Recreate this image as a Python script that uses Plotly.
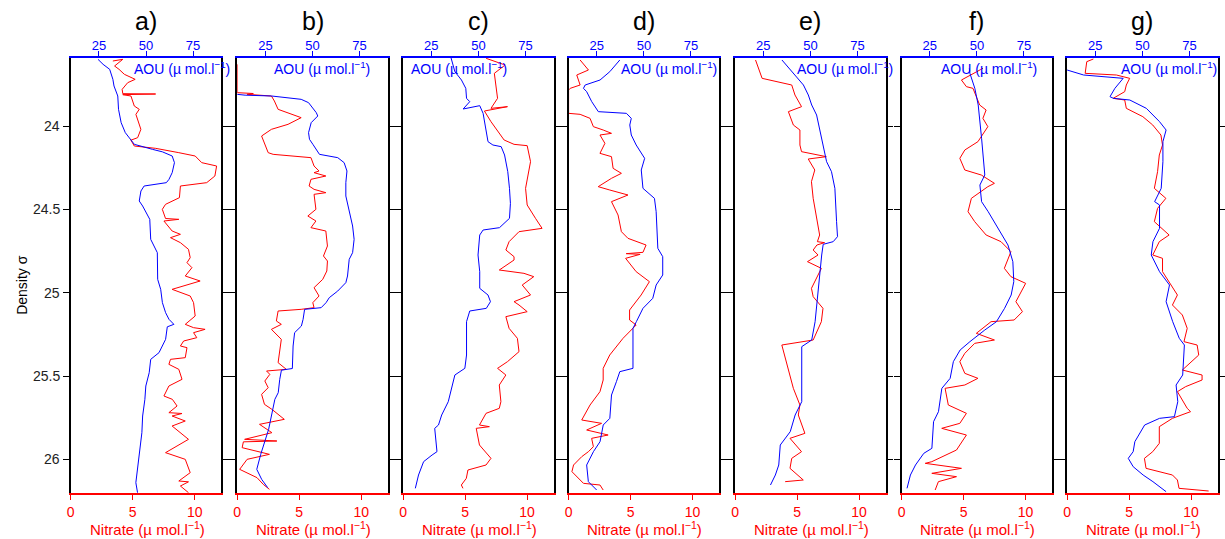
import plotly.graph_objects as go

# ---------------- data: (density sigma, value) ----------------
a_aou = [(23.60,24.5),(23.63,27.2),(23.66,30.7),(23.72,32.4),(23.76,33.0),(23.82,35.0),(23.90,35.4),(23.98,36.8),(24.04,39.0),(24.07,41.2),(24.11,43.8),(24.14,53.4),(24.155,58.7),(24.18,63.9),(24.22,65.1),(24.28,63.9),(24.32,62.2),(24.34,60.8),(24.36,49.0),(24.39,47.3),(24.45,46.4),(24.48,48.2),(24.53,50.8),(24.56,52.0),(24.68,52.5),(24.72,54.3),(24.76,56.0),(24.92,56.2),(24.98,57.8),(25.06,58.7),(25.12,60.4),(25.16,62.2),(25.19,64.8),(25.205,61.3),(25.28,60.4),(25.36,56.9),(25.40,52.5),(25.48,51.7),(25.56,49.9),(25.64,49.4),(25.74,48.2),(25.84,47.8),(25.96,46.4),(26.04,45.5),(26.14,44.6),(26.20,45.5)]
a_no3 = [(23.61,3.4),(23.60,4.2),(23.64,3.54),(23.66,3.9),(23.69,4.33),(23.71,4.86),(23.72,5.2),(23.74,4.6),(23.78,4.15),(23.806,4.2),(23.808,6.85),(23.812,4.2),(23.82,4.86),(23.88,5.13),(23.90,5.53),(23.93,5.26),(24.02,5.66),(24.07,5.4),(24.085,4.86),(24.12,5.13),(24.134,6.85),(24.16,8.72),(24.18,10.04),(24.22,10.57),(24.24,11.77),(24.30,11.63),(24.34,10.97),(24.36,8.85),(24.43,8.77),(24.47,7.65),(24.50,7.39),(24.555,7.65),(24.56,8.72),(24.57,7.52),(24.63,8.18),(24.65,8.85),(24.67,8.05),(24.70,8.85),(24.74,9.5),(24.79,9.64),(24.82,9.38),(24.85,9.78),(24.90,9.24),(24.93,10.44),(24.98,8.18),(25.02,9.64),(25.06,9.91),(25.14,10.04),(25.19,9.24),(25.21,9.91),(25.22,10.84),(25.24,9.91),(25.27,10.17),(25.29,9.11),(25.32,8.85),(25.33,9.38),(25.39,9.24),(25.40,8.05),(25.43,7.92),(25.46,8.72),(25.52,8.98),(25.56,7.92),(25.62,7.52),(25.64,8.2),(25.68,8.58),(25.72,7.92),(25.725,8.98),(25.74,8.18),(25.77,9.24),(25.80,8.18),(25.88,9.5),(25.96,7.65),(26.00,9.24),(26.08,9.64),(26.13,8.72),(26.135,9.5),(26.16,8.85),(26.20,9.5)]

b_aou = [(23.81,10.0),(23.815,14.2),(23.82,28.3),(23.83,37.0),(23.84,44.0),(23.86,47.9),(23.92,52.0),(23.94,52.8),(23.98,49.3),(24.04,47.9),(24.08,48.4),(24.11,50.2),(24.17,53.7),(24.19,63.4),(24.22,66.8),(24.27,68.3),(24.34,67.7),(24.42,67.7),(24.51,69.5),(24.60,71.3),(24.68,72.1),(24.76,71.3),(24.80,69.5),(24.90,68.6),(24.94,67.7),(24.99,63.4),(25.03,58.9),(25.06,57.2),(25.09,54.6),(25.10,45.8),(25.16,45.0),(25.20,44.1),(25.24,40.5),(25.32,39.7),(25.455,39.3),(25.465,33.5),(25.52,32.6),(25.60,31.8),(25.64,30.0),(25.82,26.7),(25.97,22.5),(26.06,20.4),(26.12,23.0),(26.17,26.2)]
b_no3 = [(23.63,0.0),(23.80,0.0),(23.805,1.3),(23.81,0.8),(23.82,2.76),(23.85,3.0),(23.90,3.3),(23.95,5.16),(23.99,4.1),(24.02,2.76),(24.06,1.97),(24.084,2.1),(24.16,2.5),(24.17,2.9),(24.19,5.95),(24.24,6.2),(24.27,6.6),(24.28,6.2),(24.30,7.15),(24.32,5.95),(24.36,5.8),(24.38,6.2),(24.40,7.15),(24.41,6.2),(24.50,6.35),(24.54,5.7),(24.57,6.35),(24.61,5.95),(24.63,7.15),(24.72,7.28),(24.78,6.96),(24.81,7.28),(24.87,7.23),(24.92,6.9),(24.97,6.2),(25.02,6.6),(25.06,6.1),(25.09,6.2),(25.10,5.16),(25.11,3.3),(25.17,3.16),(25.19,3.56),(25.22,2.76),(25.28,3.56),(25.34,3.43),(25.42,3.3),(25.46,3.96),(25.47,2.37),(25.49,2.63),(25.53,2.23),(25.57,2.5),(25.61,1.97),(25.67,2.2),(25.70,2.8),(25.76,3.8),(25.79,1.8),(25.84,2.8),(25.88,0.6),(25.89,3.2),(25.895,0.5),(25.93,0.4),(25.97,2.6),(26.00,0.8),(26.06,0.2),(26.11,1.6),(26.15,2.1),(26.18,2.6)]

c_aou = [(23.584,35.3),(23.674,37.5),(23.724,41.0),(23.774,43.3),(23.834,43.7),(23.854,45.4),(23.898,41.9),(23.878,50.7),(23.924,52.5),(24.004,53.9),(24.094,55.1),(24.114,57.7),(24.124,62.1),(24.174,63.9),(24.274,65.6),(24.374,66.5),(24.464,67.0),(24.554,66.5),(24.61,61.2),(24.624,52.5),(24.654,50.7),(24.774,49.8),(24.874,50.7),(24.974,50.7),(25.014,55.1),(25.054,56.4),(25.094,54.2),(25.11,45.4),(25.174,43.7),(25.374,43.7),(25.454,42.8),(25.494,37.5),(25.574,35.7),(25.654,34.0),(25.734,30.5),(25.794,28.8),(25.814,26.8),(25.954,28.0),(25.974,25.4),(26.014,20.9),(26.094,18.2),(26.174,16.5)]
c_no3 = [(23.594,6.7),(23.634,8.23),(23.684,7.36),(23.754,7.49),(23.834,7.62),(23.894,7.09),(23.884,8.42),(23.91,6.56),(23.974,7.09),(24.084,8.15),(24.11,8.95),(24.118,10.01),(24.214,10.28),(24.374,9.88),(24.474,10.01),(24.554,10.68),(24.614,11.21),(24.634,9.35),(24.694,8.55),(24.744,8.29),(24.784,8.95),(24.804,8.95),(24.864,7.76),(24.884,9.75),(24.904,10.54),(24.954,9.61),(25.014,10.28),(25.054,8.95),(25.074,9.35),(25.114,10.01),(25.144,8.29),(25.214,8.55),(25.274,9.22),(25.354,9.35),(25.414,8.42),(25.454,7.62),(25.494,8.29),(25.554,7.76),(25.654,7.89),(25.694,7.76),(25.724,6.69),(25.794,6.16),(25.804,6.96),(25.814,5.9),(25.914,6.16),(25.994,7.09),(26.034,6.69),(26.064,5.23),(26.114,5.1),(26.154,4.7),(26.174,4.83)]

d_aou = [(23.604,37.2),(23.674,31.9),(23.724,26.7),(23.754,18.8),(23.774,17.9),(23.794,19.6),(23.854,22.3),(23.914,25.8),(23.924,40.7),(23.954,43.3),(23.994,42.5),(24.054,43.3),(24.114,45.9),(24.194,50.4),(24.264,48.6),(24.374,49.5),(24.434,55.6),(24.514,56.5),(24.734,57.4),(24.784,60.0),(24.894,60.0),(24.954,56.5),(25.034,54.7),(25.094,49.5),(25.174,46.0),(25.214,44.2),(25.454,44.2),(25.474,37.2),(25.534,35.4),(25.614,32.8),(25.754,31.9),(25.794,28.4),(25.894,26.7),(25.954,23.2),(26.034,19.6),(26.134,20.5),(26.184,24.9)]
d_no3 = [(23.604,0.93),(23.664,1.6),(23.694,0.66),(23.754,0.93),(23.774,0.13),(23.784,0.0),(23.924,0.0),(23.93,0.93),(23.954,1.73),(24.004,2.0),(24.024,2.79),(24.044,3.46),(24.054,2.53),(24.104,2.93),(24.164,2.53),(24.184,3.46),(24.254,3.59),(24.284,4.26),(24.314,3.46),(24.364,2.39),(24.384,3.32),(24.414,4.79),(24.454,3.46),(24.534,3.99),(24.634,4.26),(24.674,4.79),(24.714,6.25),(24.758,6.0),(24.766,4.65),(24.77,5.77),(24.794,4.6),(24.874,5.45),(24.934,6.52),(25.014,5.85),(25.104,4.92),(25.164,4.92),(25.194,5.45),(25.274,4.39),(25.374,3.32),(25.454,2.79),(25.524,2.79),(25.594,2.53),(25.674,1.73),(25.764,1.06),(25.784,2.66),(25.824,1.46),(25.854,3.19),(25.874,1.86),(25.924,2.0),(25.954,1.6),(25.984,1.06),(26.034,0.4),(26.074,0.27),(26.114,0.8),(26.144,1.2),(26.154,2.53),(26.184,2.79)]

e_aou = [(23.604,34.9),(23.694,41.9),(23.754,46.3),(23.814,48.9),(23.874,50.7),(23.934,53.3),(24.034,55.1),(24.114,56.8),(24.214,58.6),(24.274,61.2),(24.374,63.0),(24.574,63.9),(24.664,64.4),(24.694,62.1),(24.71,56.8),(24.774,56.0),(24.874,55.1),(25.014,54.2),(25.174,52.5),(25.284,50.7),(25.324,45.4),(25.654,45.4),(25.734,41.9),(25.834,39.3),(25.914,34.0),(26.034,33.2),(26.094,31.4),(26.154,28.8)]
e_no3 = [(23.604,1.65),(23.714,2.18),(23.754,4.57),(23.814,4.83),(23.884,5.36),(23.914,4.3),(23.994,4.7),(24.024,5.23),(24.114,5.23),(24.154,5.36),(24.184,7.36),(24.198,5.9),(24.264,6.43),(24.334,6.16),(24.434,6.3),(24.654,6.82),(24.694,6.64),(24.70,7.22),(24.714,6.6),(24.744,6.3),(24.774,6.69),(24.814,5.84),(24.854,6.96),(24.974,6.16),(25.024,6.3),(25.094,7.09),(25.174,6.96),(25.284,6.3),(25.314,3.77),(25.574,4.7),(25.674,5.23),(25.734,5.1),(25.844,5.63),(25.874,4.43),(25.954,5.36),(25.994,4.57),(26.054,4.43),(26.124,5.5),(26.134,4.04)]

f_aou = [(23.654,46.0),(23.684,46.3),(23.774,48.9),(23.874,50.7),(24.074,52.5),(24.294,54.2),(24.354,51.6),(24.454,52.5),(24.514,56.0),(24.614,61.2),(24.714,66.5),(24.814,69.1),(24.934,69.6),(25.014,68.2),(25.094,64.7),(25.174,60.4),(25.224,54.2),(25.294,46.3),(25.344,41.1),(25.414,37.5),(25.514,35.8),(25.574,31.4),(25.714,29.6),(25.774,27.0),(25.934,26.1),(25.964,21.8),(26.034,17.4),(26.094,14.7),(26.174,12.9)]
f_no3 = [(23.654,6.56),(23.724,4.83),(23.764,5.23),(23.774,5.76),(23.874,6.3),(23.904,6.82),(23.954,6.56),(24.004,6.96),(24.094,6.16),(24.144,5.1),(24.194,4.7),(24.264,5.1),(24.294,6.43),(24.344,7.49),(24.364,6.96),(24.434,5.63),(24.514,5.36),(24.574,5.9),(24.654,6.82),(24.694,8.02),(24.754,8.82),(24.854,8.29),(24.904,8.82),(24.944,10.01),(25.054,9.22),(25.114,9.75),(25.164,9.08),(25.174,7.22),(25.244,6.03),(25.284,7.49),(25.304,5.9),(25.364,5.1),(25.414,4.7),(25.484,5.1),(25.514,6.16),(25.554,5.1),(25.574,3.51),(25.674,3.77),(25.724,5.23),(25.784,4.7),(25.814,3.24),(25.854,5.23),(25.944,4.43),(26.014,2.44),(26.024,1.91),(26.054,4.83),(26.084,2.44),(26.104,4.43),(26.134,2.97),(26.184,2.71)]

g_aou = [(23.664,10.0),(23.694,18.8),(23.714,39.8),(23.774,35.4),(23.824,32.8),(23.834,34.6),(23.844,43.3),(23.894,52.1),(23.974,59.1),(24.024,62.6),(24.094,60.9),(24.214,60.9),(24.374,60.0),(24.454,56.5),(24.474,59.1),(24.614,59.1),(24.694,55.6),(24.774,54.7),(24.874,59.1),(24.954,64.4),(25.054,62.6),(25.174,66.1),(25.274,69.6),(25.314,72.3),(25.494,71.4),(25.554,67.9),(25.654,68.8),(25.744,67.0),(25.754,59.1),(25.794,51.2),(25.894,46.0),(25.954,45.1),(25.994,42.5),(26.044,45.1),(26.094,50.4),(26.134,55.6),(26.194,62.6)]
g_no3 = [(23.598,2.12),(23.614,1.59),(23.684,1.46),(23.694,3.98),(23.714,5.05),(23.754,4.78),(23.794,4.65),(23.834,3.72),(23.844,4.65),(23.894,4.78),(23.944,6.11),(23.994,6.91),(24.054,7.57),(24.114,7.7),(24.174,7.44),(24.274,7.3),(24.374,7.04),(24.434,7.97),(24.494,7.3),(24.574,7.04),(24.654,8.23),(24.694,7.44),(24.774,6.91),(24.794,7.7),(24.874,7.7),(25.014,8.9),(25.074,8.5),(25.134,9.3),(25.214,9.69),(25.294,9.43),(25.314,10.49),(25.374,10.62),(25.464,9.3),(25.494,10.89),(25.524,10.89),(25.564,9.56),(25.594,8.9),(25.694,9.69),(25.714,9.96),(25.754,8.5),(25.804,7.44),(25.904,7.44),(25.954,6.91),(25.994,6.24),(26.054,6.37),(26.094,8.5),(26.124,8.9),(26.174,9.03),(26.19,11.42)]

panel_labels = ["a)", "b)", "c)", "d)", "e)", "f)", "g)"]
aou_series = [a_aou, b_aou, c_aou, d_aou, e_aou, f_aou, g_aou]
no3_series = [a_no3, b_no3, c_no3, d_no3, e_no3, f_no3, g_no3]
density_ticks = [24, 24.5, 25, 25.5, 26]
density_ticktext = ["24", "24.5", "25", "25.5", "26"]
no3_ticks = [0, 5, 10]
aou_ticks = [25, 50, 75]

# ---------------- layout ----------------
W, H = 1225, 539
T, B = 58, 46
FONT = "Liberation Sans, Arial, sans-serif"
RED = "#ff0000"
BLUE = "#0000ff"
lefts_px = [67.3, 235.3, 402.7, 569.7, 737.7, 905.7, 1072.7]
pw = 152
aou_label_px = [129, 270, 409, 621, 798, 943, 1125]

fig = go.Figure()
layout = dict(width=W, height=H, margin=dict(l=0, r=0, t=T, b=B),
              paper_bgcolor="white", plot_bgcolor="white", showlegend=False,
              font=dict(family=FONT, size=13, color="black"))
annotations = []

def pxpy(py):
    return (H - B - py) / (H - T - B)

for i in range(7):
    nx = 2 * i + 1
    ax = 2 * i + 2
    yi = i + 1
    xn = "x" if nx == 1 else f"x{nx}"
    xa = f"x{ax}"
    yn = "y" if yi == 1 else f"y{yi}"
    dom = [lefts_px[i] / W, min((lefts_px[i] + pw) / W, 1.0)]

    nd = [p[0] for p in no3_series[i]]
    nv = [p[1] for p in no3_series[i]]
    ad = [p[0] for p in aou_series[i]]
    av = [p[1] for p in aou_series[i]]
    fig.add_trace(go.Scatter(x=nv, y=nd, mode="lines", xaxis=xn, yaxis=yn,
                             line=dict(color=RED, width=1)))
    fig.add_trace(go.Scatter(x=av, y=ad, mode="lines", xaxis=xa, yaxis=yn,
                             line=dict(color=BLUE, width=1)))

    layout["xaxis" if nx == 1 else f"xaxis{nx}"] = dict(
        domain=dom, anchor=yn, range=[0, 12.15], tickvals=no3_ticks,
        showline=True, linecolor=RED, linewidth=1.5, ticks="outside", ticklen=5,
        tickcolor=RED, tickfont=dict(color=RED, size=14), showgrid=False,
        zeroline=False, mirror=False)
    layout[f"xaxis{ax}"] = dict(
        overlaying=xn, anchor=yn, side="top", range=[10, 90], tickvals=aou_ticks,
        showline=True, linecolor=BLUE, linewidth=1.5, ticks="outside", ticklen=5,
        tickcolor=BLUE, tickfont=dict(color=BLUE, size=13), showgrid=False,
        zeroline=False, ticklabelstandoff=-4)
    layout["yaxis" if yi == 1 else f"yaxis{yi}"] = dict(
        domain=[0, 1], anchor=xn, range=[26.202, 23.592], tickvals=density_ticks,
        showticklabels=False, showline=True,
        linecolor="black", linewidth=1.5, mirror="ticks", ticks="outside",
        ticklen=6, tickcolor="black", showgrid=False, zeroline=False)

    cx = (lefts_px[i] + pw / 2) / W
    annotations.append(dict(text=panel_labels[i], x=cx, y=pxpy(21), xref="paper",
                            yref="paper", showarrow=False, xanchor="center",
                            yanchor="middle", font=dict(size=25, color="black")))
    annotations.append(dict(text="Nitrate (µ mol.l<sup>−1</sup>)", x=cx + 1 / W,
                            y=pxpy(528), xref="paper", yref="paper", showarrow=False,
                            xanchor="center", yanchor="middle",
                            font=dict(size=15, color=RED)))
    annotations.append(dict(text="AOU (µ mol.l<sup>−1</sup>)", x=aou_label_px[i] / W,
                            y=pxpy(68), xref="paper", yref="paper", showarrow=False,
                            xanchor="left", yanchor="middle",
                            font=dict(size=14, color=BLUE)))

# density tick labels, right-aligned next to the first panel's left axis
for v, t in zip(density_ticks, density_ticktext):
    annotations.append(dict(text=t, x=59 / W, y=v, xref="paper", yref="y",
                            showarrow=False, xanchor="right", yanchor="middle",
                            font=dict(size=14, color="#222")))

annotations.append(dict(text="Density σ", x=18 / W, y=pxpy(285), xref="paper",
                        yref="paper", showarrow=False, textangle=-90,
                        xanchor="center", yanchor="middle",
                        font=dict(size=14, color="black")))
layout["annotations"] = annotations
fig.update_layout(**layout)
fig.write_html("out.html")
